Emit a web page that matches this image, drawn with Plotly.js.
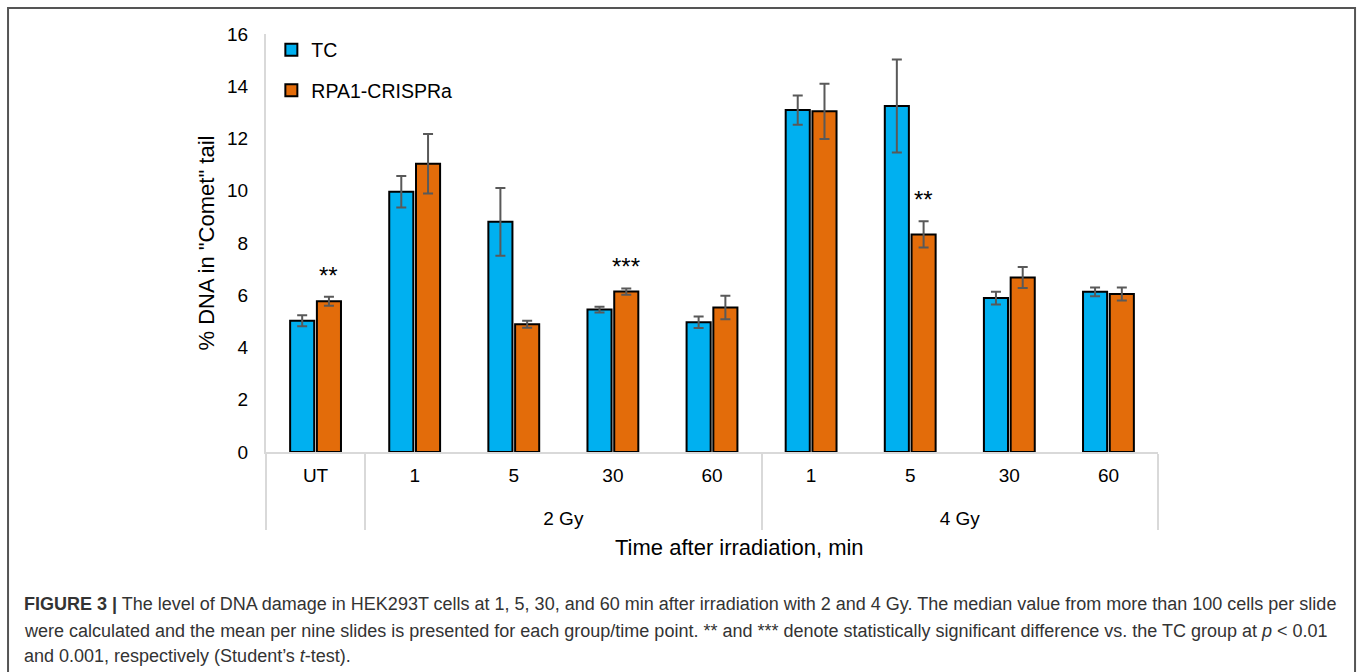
<!DOCTYPE html>
<html>
<head>
<meta charset="utf-8">
<script src="https://cdn.plot.ly/plotly-3.0.1.min.js"></script>
<style>
  html, body { margin: 0; padding: 0; background: #fff; }
  #chart { width: 1358px; height: 672px; }
</style>
</head>
<body>
<div id="chart"></div>
<script>
// ---- data ----
var doseGroups = [" ", "2 Gy", "2 Gy", "2 Gy", "2 Gy", "4 Gy", "4 Gy", "4 Gy", "4 Gy"];
var timeLabels = ["UT", "1", "5", "30", "60", "1", "5", "30", "60"];

var tcValues  = [5.02, 9.96, 8.81, 5.45, 4.97, 13.09, 13.24, 5.89, 6.13];
var tcErrors  = [0.21, 0.60, 1.30, 0.11, 0.22, 0.56, 1.78, 0.24, 0.17];
var rpaValues = [5.77, 11.03, 4.89, 6.14, 5.53, 13.04, 8.33, 6.68, 6.05];
var rpaErrors = [0.17, 1.14, 0.13, 0.12, 0.45, 1.06, 0.50, 0.40, 0.25];
var rpaSignificance = ["**", "", "", "***", "", "", "**", "", ""];

var seriesNames = ["TC", "RPA1-CRISPRa"];

var captionLines = [
  "<b>FIGURE 3 |</b> The level of DNA damage in HEK293T cells at 1, 5, 30, and 60 min after irradiation with 2 and 4 Gy. The median value from more than 100 cells per slide",
  "were calculated and the mean per nine slides is presented for each group/time point. ** and *** denote statistically significant difference vs. the TC group at <i>p</i> &lt; 0.01",
  "and 0.001, respectively (Student\u2019s <i>t</i>-test)."
];

// ---- styling ----
var FONT = "Liberation Sans, Arial, sans-serif";
var BLUE = "#00b0f0";
var ORANGE = "#e36c0a";
var BARGAP = 0.46;
var BARGROUPGAP = 0.1;

// group labels sit one (blank) line lower, as in the reference
var groupAxisLabels = doseGroups.map(function (g) { return "\u00a0<br>" + g; });

function barTrace(name, vals, errs, color, group) {
  return {
    type: "bar",
    name: name,
    legendgroup: group,
    x: [groupAxisLabels, timeLabels],
    y: vals,
    marker: { color: color, line: { color: "#000000", width: 2 } },
    error_y: { type: "data", array: errs, visible: true, color: "#595959", thickness: 2, width: 5 },
    hoverinfo: "y"
  };
}

var traces = [
  barTrace(seriesNames[0], tcValues, tcErrors, BLUE, "g1"),
  barTrace(seriesNames[1], rpaValues, rpaErrors, ORANGE, "g2")
];

// significance stars above the RPA1-CRISPRa bars
var slot = (1 - BARGAP) / 2;
var annotations = [];
rpaSignificance.forEach(function (s, i) {
  if (!s) return;
  annotations.push({
    xref: "x", yref: "y",
    x: i + slot / 2,
    y: rpaValues[i] + rpaErrors[i],
    text: s,
    showarrow: false,
    yanchor: "bottom",
    yshift: 6,
    font: { family: FONT, size: 24, color: "#000" }
  });
});

// x axis title (centred like the reference)
annotations.push({
  xref: "paper", yref: "paper",
  x: 0.531, y: -0.229,
  xanchor: "center", yanchor: "middle",
  text: "Time after irradiation, min",
  showarrow: false,
  font: { family: FONT, size: 22, color: "#000" }
});

// caption, one annotation per line
var captionY = [-0.3636, -0.4282, -0.488];
captionLines.forEach(function (line, i) {
  annotations.push({
    xref: "paper", yref: "paper",
    x: -0.2735, y: captionY[i],
    xanchor: "left", yanchor: "middle",
    align: "left",
    text: line,
    showarrow: false,
    font: { family: FONT, size: 18, color: "#333333" }
  });
});

var layout = {
  width: 1358,
  height: 672,
  margin: { l: 266, r: 200, t: 34, b: 220 },
  paper_bgcolor: "#ffffff",
  plot_bgcolor: "#ffffff",
  font: { family: FONT, size: 19, color: "#000" },
  barmode: "group",
  bargap: BARGAP,
  bargroupgap: BARGROUPGAP,
  showlegend: true,
  legend: {
    x: 0.006, y: 1.008, xanchor: "left", yanchor: "top",
    bgcolor: "rgba(0,0,0,0)",
    font: { family: FONT, size: 19.5, color: "#000" },
    traceorder: "grouped",
    tracegroupgap: 12
  },
  xaxis: {
    type: "multicategory",
    showline: true,
    linecolor: "#d9d9d9",
    linewidth: 2,
    showgrid: false,
    zeroline: false,
    ticks: "",
    ticklabelstandoff: 5,
    showdividers: true,
    dividercolor: "#d9d9d9",
    dividerwidth: 2,
    tickfont: { family: FONT, size: 19, color: "#000" },
    range: [-0.5, 8.5]
  },
  yaxis: {
    range: [0, 16],
    dtick: 2,
    showline: true,
    linecolor: "#d9d9d9",
    linewidth: 2,
    showgrid: false,
    zeroline: false,
    ticks: "",
    ticklabelstandoff: 12,
    tickfont: { family: FONT, size: 19, color: "#000" },
    title: { text: "% DNA in \"Comet\" tail", font: { family: FONT, size: 22, color: "#000" }, standoff: 6 }
  },
  annotations: annotations,
  shapes: [{
    type: "rect", xref: "paper", yref: "paper",
    x0: -0.2892, x1: 1.2209, y0: -0.56, y1: 1.0622,
    line: { color: "#555555", width: 2 },
    fillcolor: "rgba(0,0,0,0)",
    layer: "below"
  }]
};

Plotly.newPlot("chart", traces, layout, { displayModeBar: false, staticPlot: true });
</script>
</body>
</html>
